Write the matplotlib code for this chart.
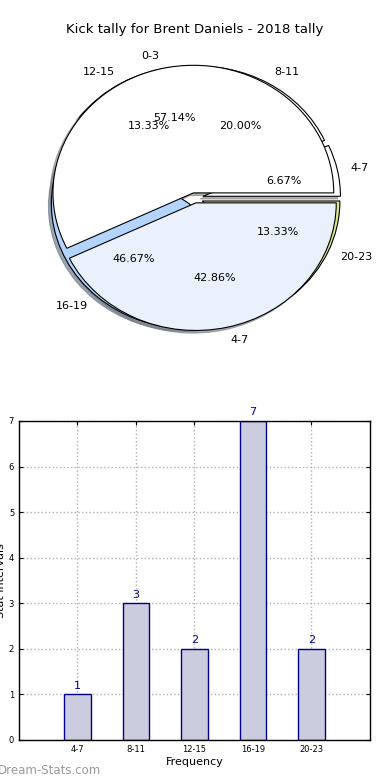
import matplotlib
matplotlib.use("Agg")
import matplotlib.pyplot as plt

title = "Kick tally for Brent Daniels - 2018 tally"

# outer breakdown (pie 1) and bar chart data
intervals = ["4-7", "8-11", "12-15", "16-19", "20-23"]
counts = [1, 3, 2, 7, 2]
interval_colors = ["white", "white", "white", "#b3d4ff", "#d6ea8c"]

# second overlaid pie
split_labels = ["0-3", "4-7"]
split_values = [4, 3]
split_colors = ["white", "#eaf1fd"]

fig = plt.figure(figsize=(3.9, 7.8), dpi=100)

shadow_style = dict(ox=-0.015, oy=-0.015, shade=0.5, alpha=0.6)

# --- pie ---
ax1 = fig.add_axes([0.049, 0.5418, 0.9, 0.409])
w1 = ax1.pie(counts, labels=intervals, colors=interval_colors, autopct="%1.2f%%",
             explode=[0.06] * len(counts), radius=0.98, shadow=shadow_style,
             wedgeprops=dict(edgecolor="black", linewidth=0.8),
             textprops=dict(fontsize=8))
w2 = ax1.pie(split_values, labels=split_labels, colors=split_colors, autopct="%1.2f%%",
             explode=[0.04] * len(split_values), radius=1.0, shadow=shadow_style,
             wedgeprops=dict(edgecolor="black", linewidth=0.8),
             textprops=dict(fontsize=8))
ax1.set_aspect("auto")
ax1.set_xlim(-1.25, 1.25)
ax1.set_ylim(-1.25, 1.25)
ax1.axis("off")
fig.text(0.5, 0.962, title, ha="center", va="center", fontsize=9.5)

# --- bars ---
ax2 = fig.add_axes([0.0487, 0.0513, 0.9, 0.409])
pos = list(range(1, len(counts) + 1))
bars = ax2.bar(pos, counts, width=0.45, color="#ccccdf", edgecolor="#00008b", linewidth=1, zorder=2)
for x, v in zip(pos, counts):
    ax2.text(x, v + 0.08, str(v), ha="center", va="bottom", color="#000099", fontsize=8)
ax2.set_xlim(0, 6)
ax2.set_ylim(0, 7)
ax2.set_xticks(pos)
ax2.set_xticklabels(intervals)
ax2.set_yticks(range(0, 8))
ax2.tick_params(direction="in", labelsize=6, top=True, right=True, length=3)
ax2.grid(True, linestyle=":", color="#b0b0b0", linewidth=1, zorder=0)
ax2.set_axisbelow(True)
ax2.set_xlabel("Frequency", fontsize=8, labelpad=2)
ax2.set_ylabel("Stat Intervals", fontsize=8, labelpad=2)
for s in ax2.spines.values():
    s.set_linewidth(1)

fig.text(-0.005, 0.012, "Dream-Stats.com", color="#999999", fontsize=8.5, ha="left", va="center")

fig.savefig("out.png", dpi=100)
